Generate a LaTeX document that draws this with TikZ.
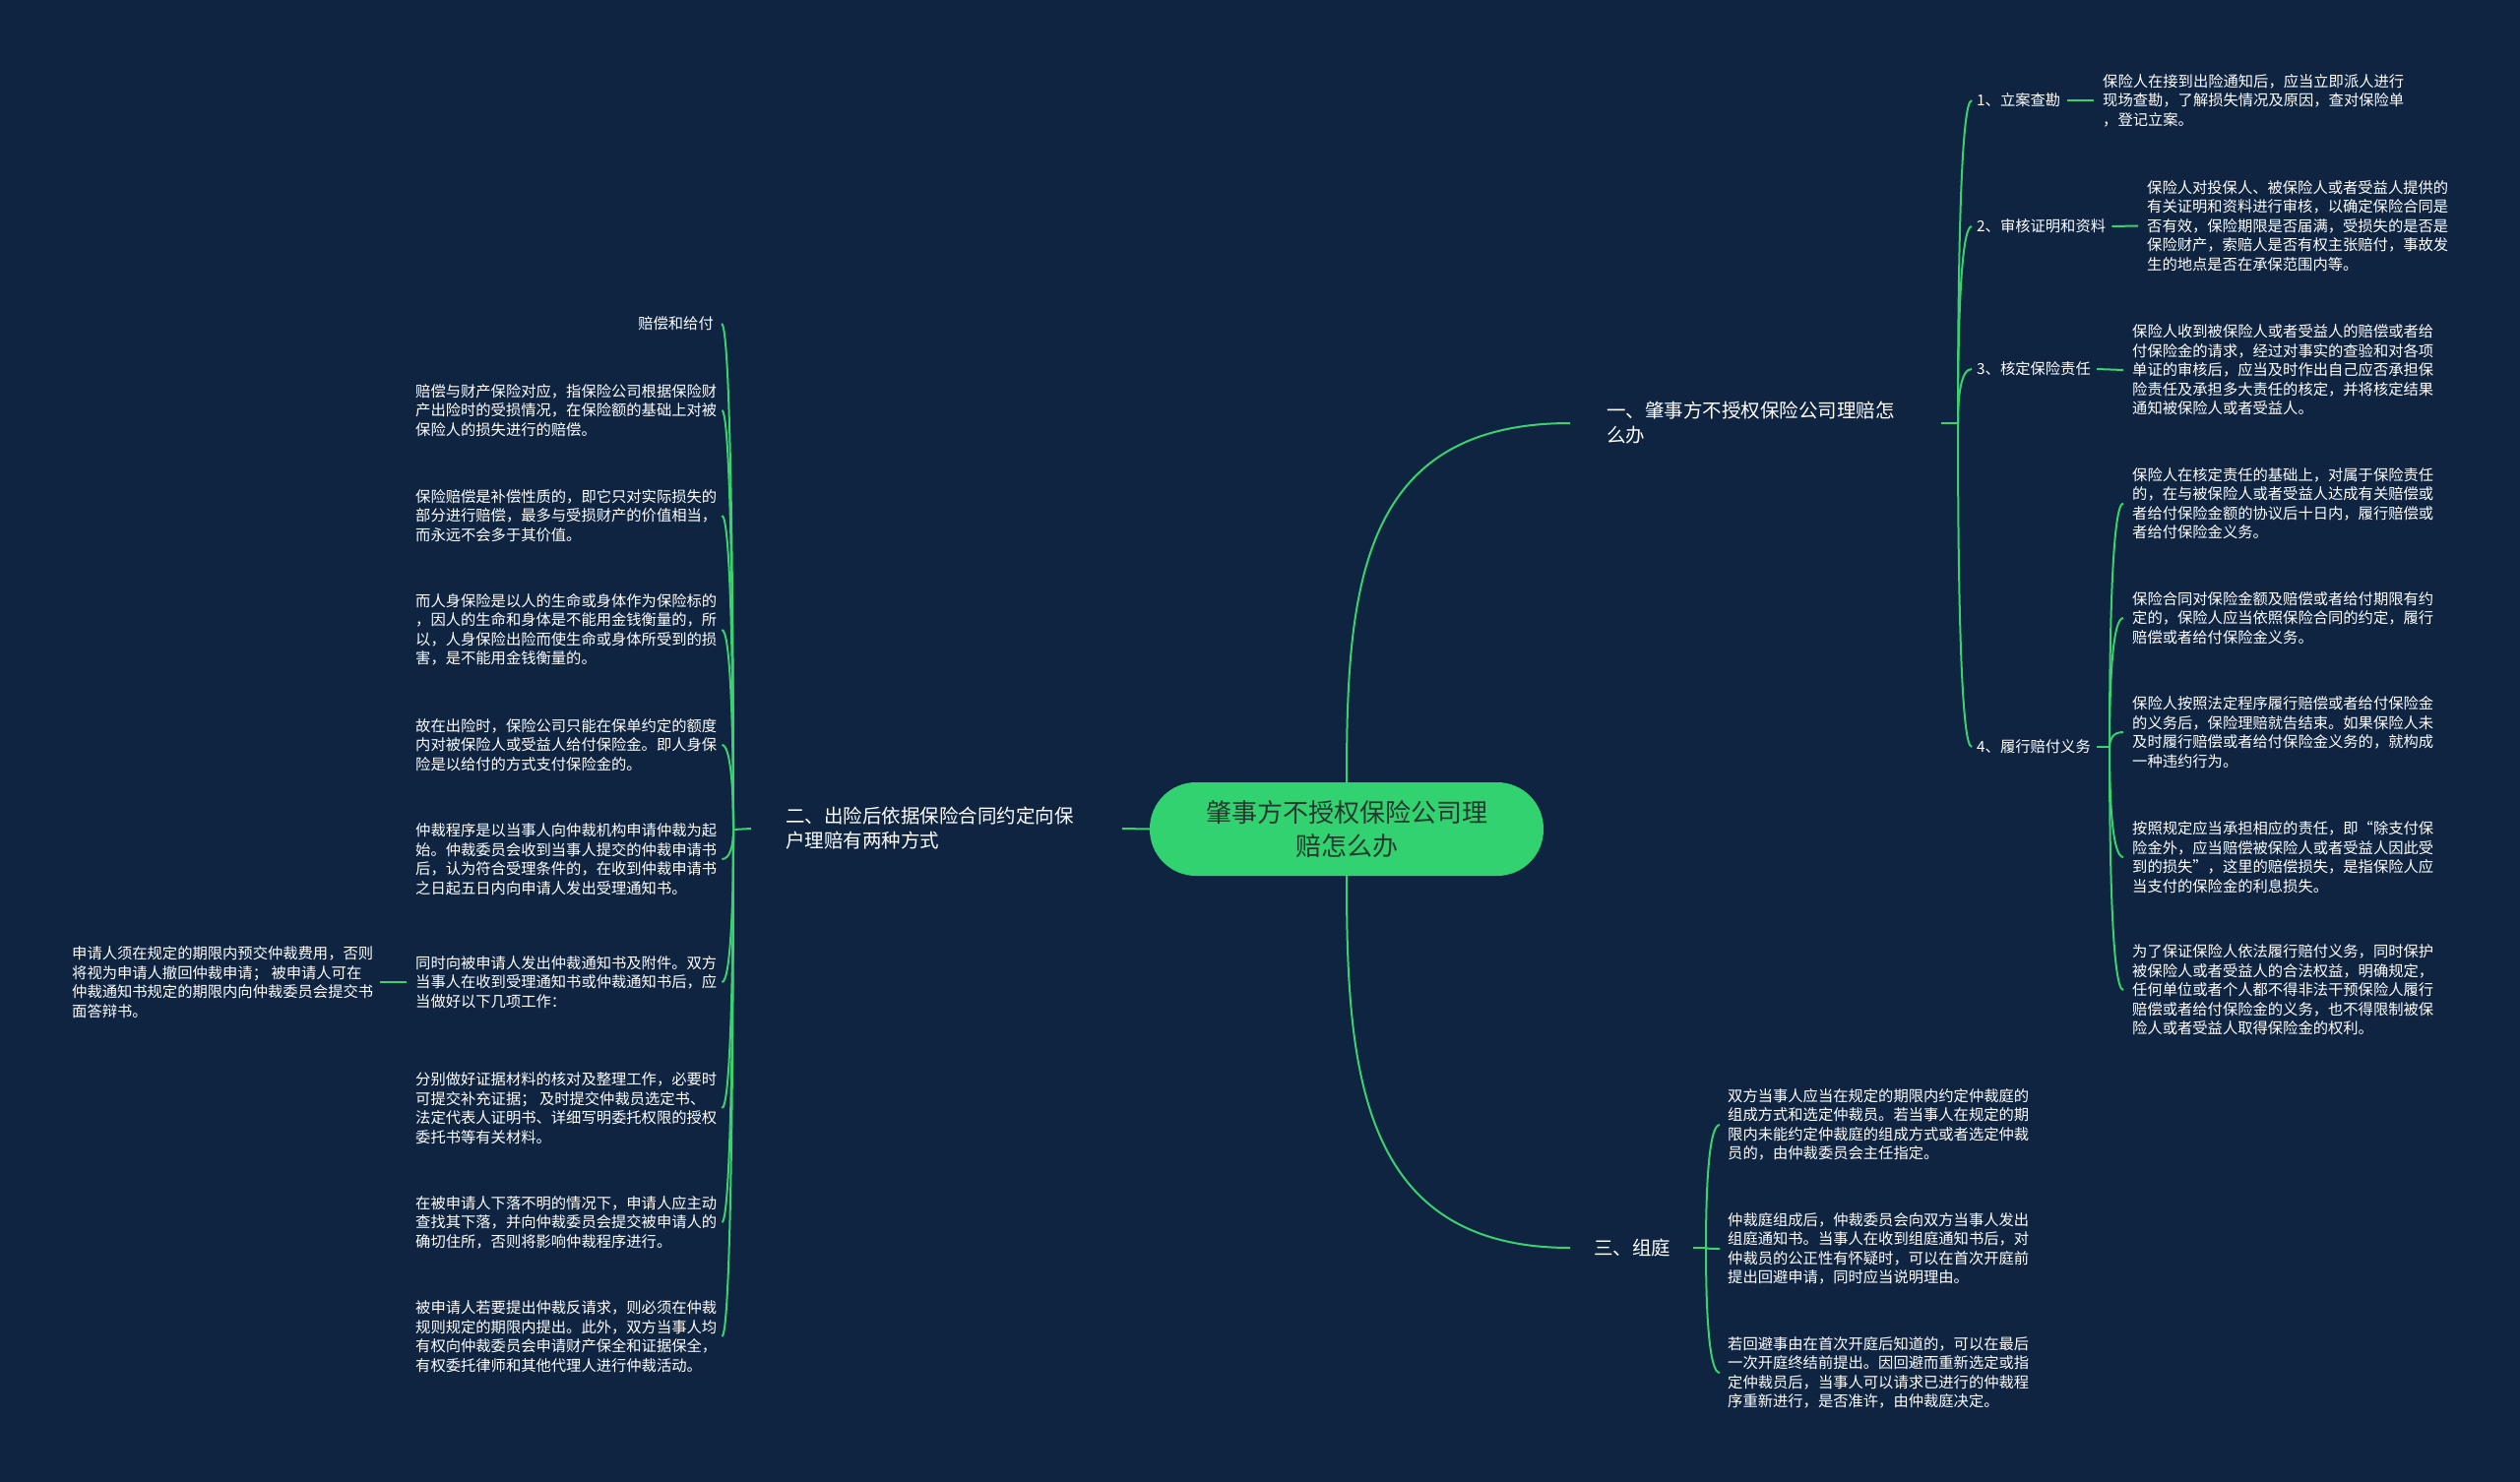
\documentclass[tikz,border=0pt]{standalone}
\usepackage{fontspec}
\setmainfont{Noto Sans CJK SC}
\usetikzlibrary{calc}
\definecolor{bg}{HTML}{0E2441}
\definecolor{eg}{HTML}{3BD16F}
\definecolor{rootfill}{HTML}{33D270}
\definecolor{roottext}{HTML}{25392F}
\newcommand\lcurve[2]{\draw[edge] (#1) .. controls ($(#1)!0.5!(#1|-#2)$) and ($(#1|-#2)+(-3,0)$) .. (#2);}
\newcommand\rcurve[2]{\draw[edge] (#1) .. controls ($(#1)!0.5!(#1|-#2)$) and ($(#1|-#2)+(3,0)$) .. (#2);}
\begin{document}
\begin{tikzpicture}[x=1pt,y=1pt,
 edge/.style={draw=eg,line width=2pt},
 leaf/.style={text=white,inner sep=0pt,align=left,anchor=west,font=\fontsize{15.3pt}{19.5pt}\selectfont},
 branch/.style={text=white,inner sep=0pt,align=left,anchor=west,font=\fontsize{19.5pt}{25pt}\selectfont},
 root/.style={fill=rootfill,text=roottext,rounded corners=47pt,minimum width=400pt,minimum height=95pt,align=center,inner sep=0pt,font=\fontsize{26pt}{34pt}\selectfont}]
\fill[bg] (0,0) rectangle (2560,-1506);
\useasboundingbox (0,0) rectangle (2560,-1506);

% root
\node[root] (root) at (1368,-842.5) {肇事方不授权保险公司理\\赔怎么办};

% branches
\node[branch] (b1) at (1632,-430) {一、肇事方不授权保险公司理赔怎\\么办};
\node[branch] (b2) at (798,-842) {二、出险后依据保险合同约定向保\\户理赔有两种方式};
\node[branch] (b3) at (1619,-1268) {三、组庭};

\draw[edge] (root.north) .. controls +(0,195) and +(-215,0) .. ([xshift=-37pt]b1.west);
\draw[edge] (root.south) .. controls +(0,-195) and +(-215,0) .. ([xshift=-24pt]b3.west);
\draw[edge] (root.west) -- ([xshift=49pt]b2.east);

% ===== branch 1 =====
\coordinate (s1) at (1989,-430);
\draw[edge] ([xshift=47pt]b1.east) -- (s1);
\node[leaf] (c1) at (2008,-102) {1、立案查勘};
\node[leaf] (c2) at (2008,-230) {2、审核证明和资料};
\node[leaf] (c3) at (2008,-375) {3、核定保险责任};
\node[leaf] (c4) at (2008,-759) {4、履行赔付义务};
\foreach \c in {c1,c2,c3,c4}{
  \coordinate (e\c) at ([xshift=-5pt]\c.west);
  \rcurve{s1}{e\c}
}
\node[leaf] (l1) at (2136,-102) {保险人在接到出险通知后，应当立即派人进行\\现场查勘，了解损失情况及原因，查对保险单\\，登记立案。};
\node[leaf] (l2) at (2181,-229.5) {保险人对投保人、被保险人或者受益人提供的\\有关证明和资料进行审核，以确定保险合同是\\否有效，保险期限是否届满，受损失的是否是\\保险财产，索赔人是否有权主张赔付，事故发\\生的地点是否在承保范围内等。};
\node[leaf] (l3) at (2166,-376) {保险人收到被保险人或者受益人的赔偿或者给\\付保险金的请求，经过对事实的查验和对各项\\单证的审核后，应当及时作出自己应否承担保\\险责任及承担多大责任的核定，并将核定结果\\通知被保险人或者受益人。};
\draw[edge] ([xshift=7pt]c1.east) -- ([xshift=-9pt]l1.west);
\draw[edge] ([xshift=6pt]c2.east) -- ([xshift=-9pt]l2.west);
\draw[edge] ([xshift=6pt]c3.east) -- ([xshift=-9pt]l3.west);

\coordinate (s4) at (2143,-759);
\draw[edge] ([xshift=6pt]c4.east) -- (s4);
\node[leaf] (l4a) at (2166,-511.5) {保险人在核定责任的基础上，对属于保险责任\\的，在与被保险人或者受益人达成有关赔偿或\\者给付保险金额的协议后十日内，履行赔偿或\\者给付保险金义务。};
\node[leaf] (l4b) at (2166,-628) {保险合同对保险金额及赔偿或者给付期限有约\\定的，保险人应当依照保险合同的约定，履行\\赔偿或者给付保险金义务。};
\node[leaf] (l4c) at (2166,-744) {保险人按照法定程序履行赔偿或者给付保险金\\的义务后，保险理赔就告结束。如果保险人未\\及时履行赔偿或者给付保险金义务的，就构成\\一种违约行为。};
\node[leaf] (l4d) at (2166,-871) {按照规定应当承担相应的责任，即“除支付保\\险金外，应当赔偿被保险人或者受益人因此受\\到的损失”，这里的赔偿损失，是指保险人应\\当支付的保险金的利息损失。};
\node[leaf] (l4e) at (2166,-1006) {为了保证保险人依法履行赔付义务，同时保护\\被保险人或者受益人的合法权益，明确规定，\\任何单位或者个人都不得非法干预保险人履行\\赔偿或者给付保险金的义务，也不得限制被保\\险人或者受益人取得保险金的权利。};
\foreach \c in {l4a,l4b,l4c,l4d,l4e}{
  \coordinate (e\c) at ([xshift=-9pt]\c.west);
  \rcurve{s4}{e\c}
}

% ===== branch 3 =====
\coordinate (s3) at (1733,-1268);
\draw[edge] ([xshift=23pt]b3.east) -- (s3);
\node[leaf] (m1) at (1755,-1143) {双方当事人应当在规定的期限内约定仲裁庭的\\组成方式和选定仲裁员。若当事人在规定的期\\限内未能约定仲裁庭的组成方式或者选定仲裁\\员的，由仲裁委员会主任指定。};
\node[leaf] (m2) at (1755,-1269) {仲裁庭组成后，仲裁委员会向双方当事人发出\\组庭通知书。当事人在收到组庭通知书后，对\\仲裁员的公正性有怀疑时，可以在首次开庭前\\提出回避申请，同时应当说明理由。};
\node[leaf] (m3) at (1755,-1395) {若回避事由在首次开庭后知道的，可以在最后\\一次开庭终结前提出。因回避而重新选定或指\\定仲裁员后，当事人可以请求已进行的仲裁程\\序重新进行，是否准许，由仲裁庭决定。};
\foreach \c in {m1,m2,m3}{
  \coordinate (e\c) at ([xshift=-8pt]\c.west);
  \rcurve{s3}{e\c}
}

% ===== branch 2 =====
\coordinate (s2) at (745,-843);
\draw[edge] ([xshift=-35pt]b2.west) -- (s2);
\node[leaf,anchor=east,align=right] (n1) at (725,-329) {赔偿和给付};
\node[leaf] (n2) at (422,-417) {赔偿与财产保险对应，指保险公司根据保险财\\产出险时的受损情况，在保险额的基础上对被\\保险人的损失进行的赔偿。};
\node[leaf] (n3) at (422,-524) {保险赔偿是补偿性质的，即它只对实际损失的\\部分进行赔偿，最多与受损财产的价值相当，\\而永远不会多于其价值。};
\node[leaf] (n4) at (422,-640) {而人身保险是以人的生命或身体作为保险标的\\，因人的生命和身体是不能用金钱衡量的，所\\以，人身保险出险而使生命或身体所受到的损\\害，是不能用金钱衡量的。};
\node[leaf] (n5) at (422,-757) {故在出险时，保险公司只能在保单约定的额度\\内对被保险人或受益人给付保险金。即人身保\\险是以给付的方式支付保险金的。};
\node[leaf] (n6) at (422,-873) {仲裁程序是以当事人向仲裁机构申请仲裁为起\\始。仲裁委员会收到当事人提交的仲裁申请书\\后，认为符合受理条件的，在收到仲裁申请书\\之日起五日内向申请人发出受理通知书。};
\node[leaf] (n7) at (422,-998) {同时向被申请人发出仲裁通知书及附件。双方\\当事人在收到受理通知书或仲裁通知书后，应\\当做好以下几项工作：};
\node[leaf] (n8) at (422,-1126) {分别做好证据材料的核对及整理工作，必要时\\可提交补充证据； 及时提交仲裁员选定书、\\法定代表人证明书、详细写明委托权限的授权\\委托书等有关材料。};
\node[leaf] (n9) at (422,-1242) {在被申请人下落不明的情况下，申请人应主动\\查找其下落，并向仲裁委员会提交被申请人的\\确切住所，否则将影响仲裁程序进行。};
\node[leaf] (n10) at (422,-1358) {被申请人若要提出仲裁反请求，则必须在仲裁\\规则规定的期限内提出。此外，双方当事人均\\有权向仲裁委员会申请财产保全和证据保全，\\有权委托律师和其他代理人进行仲裁活动。};
\coordinate (en1) at ([xshift=8pt]n1.east);
\lcurve{s2}{en1}
\foreach \c in {n2,n3,n4,n5,n6,n7,n8,n9,n10}{
  \coordinate (e\c) at ([xshift=5pt]\c.east);
  \lcurve{s2}{e\c}
}
\node[leaf] (n7a) at (73,-998) {申请人须在规定的期限内预交仲裁费用，否则\\将视为申请人撤回仲裁申请； 被申请人可在\\仲裁通知书规定的期限内向仲裁委员会提交书\\面答辩书。};
\draw[edge] ([xshift=-9pt]n7.west) -- ([xshift=7pt]n7a.east);
\end{tikzpicture}
\end{document}
